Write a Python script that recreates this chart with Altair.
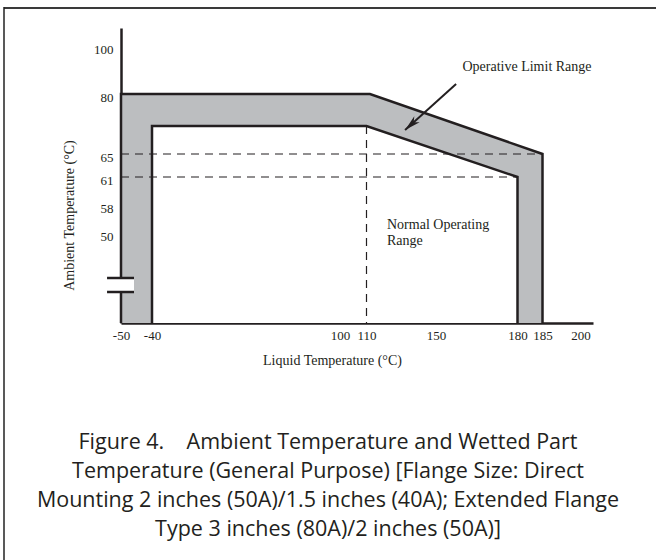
import altair as alt
import pandas as pd

SERIF = "Liberation Serif"
SANS = "Open Sans"
INK = "#231f20"
GRAY = "#bcbec0"

# ---- data (degrees C) ----
Y_MIN = -40
outer_x = [-50, -50, 112, 185, 185]
outer_y = [Y_MIN, 80, 80, 65, Y_MIN]
inner_x = [-40, -40, 110, 180, 180]
inner_y = [Y_MIN, 72, 72, 61, Y_MIN]

dash_h_y = [65, 61]
dash_h_x1 = [-50, -50]
dash_h_x2 = [185, 180]
dash_v_x = [110]
dash_v_y1 = [72]
dash_v_y2 = [Y_MIN]

x_ticks = [-50, -40, 100, 110, 150, 180, 185, 200]
y_ticks = [50, 58, 61, 65, 80, 100]

break_y = [-9, 5]
break_x = [-54.5, -45.8]

arrow_from = (157.4, 84.2)
arrow_to = (132.2, 71.0)

label_text = ["Operative Limit Range", "Normal Operating\nRange"]
label_x = [181.9, 121.8]
label_y = [91.4, 52.3]

caption = [
    "Figure 4.\u00a0\u00a0\u00a0 Ambient Temperature and Wetted Part",
    "Temperature (General Purpose) [Flange Size: Direct",
    "Mounting 2 inches (50A)/1.5 inches (40A); Extended Flange",
    "Type 3 inches (80A)/2 inches (50A)]",
]

# ---- schematic (piecewise) scales ----
xs = alt.Scale(domain=[-50, -40, 100, 110, 150, 180, 185, 205],
               range=[0, 31, 219, 245.5, 315, 396.5, 421.5, 472],
               nice=False, zero=False)
ys = alt.Scale(domain=[-40, 50, 58, 61, 65, 80, 100, 108],
               range=[295, 205, 177.5, 149, 126, 66, 18.5, 0],
               nice=False, zero=False)

xaxis = alt.Axis(values=x_ticks, title="Liquid Temperature (°C)", grid=False,
                 ticks=False, tickSize=0, labelPadding=6, labelFont=SERIF,
                 labelFontSize=13, labelColor=INK, labelExpr="'' + datum.value",
                 domainColor=INK, domainWidth=2.5, titleFont=SERIF,
                 titleFontSize=14, titleFontWeight="normal", titleColor=INK,
                 titleX=211, titleY=37, titleBaseline="middle", labelFlush=False,
                 labelOverlap=False)
yaxis = alt.Axis(values=y_ticks, title="Ambient Temperature (°C)", grid=False,
                 ticks=False, tickSize=0, labelPadding=8, labelFont=SERIF,
                 labelFontSize=13, labelColor=INK, labelOffset=3,
                 domainColor=INK, domainWidth=2.5, titleFont=SERIF,
                 titleFontSize=14, titleFontWeight="normal", titleColor=INK,
                 titleX=-52, titleY=187, titleBaseline="middle", labelFlush=False,
                 labelOverlap=False)


def X(f="x"):
    return alt.X(f, type="quantitative", scale=xs, axis=xaxis)


def Y(f="y"):
    return alt.Y(f, type="quantitative", scale=ys, axis=yaxis)


outer = pd.DataFrame({"x": outer_x, "y": outer_y, "o": range(5)})
inner = pd.DataFrame({"x": inner_x, "y": inner_y, "o": range(5)})
outer_top = outer.iloc[1:4].assign(y2=Y_MIN)
inner_top = inner.iloc[1:4].assign(y2=Y_MIN)

gray_area = alt.Chart(outer_top).mark_area(color=GRAY, interpolate="linear").encode(
    x=X(), y=Y(), y2="y2")
white_area = alt.Chart(inner_top).mark_area(color="white", interpolate="linear").encode(
    x=X(), y=Y(), y2="y2")

dh = pd.DataFrame({"x": dash_h_x1, "x2": dash_h_x2, "y": dash_h_y})
dash_h = alt.Chart(dh).mark_rule(color=INK, strokeWidth=1.2, strokeDash=[8, 6]).encode(
    x=X(), x2="x2", y=Y())
dv = pd.DataFrame({"x": dash_v_x, "y": dash_v_y1, "y2": dash_v_y2})
dash_v = alt.Chart(dv).mark_rule(color=INK, strokeWidth=1.2, strokeDash=[8, 6]).encode(
    x=X(), y=Y(), y2="y2")

outer_line = alt.Chart(outer).mark_line(color=INK, strokeWidth=2.5, strokeJoin="miter").encode(
    x=X(), y=Y(), order="o")
inner_line = alt.Chart(inner).mark_line(color=INK, strokeWidth=2.5, strokeJoin="miter").encode(
    x=X(), y=Y(), order="o")

brk = pd.DataFrame({"x": [break_x[0]], "x2": [break_x[1]], "y": [break_y[0]], "y2": [break_y[1]]})
break_rect = alt.Chart(brk).mark_rect(color="white").encode(x=X(), x2="x2", y=Y(), y2="y2")
brk_lines = pd.DataFrame({"x": [break_x[0]] * 2, "x2": [break_x[1]] * 2, "y": break_y})
break_rules = alt.Chart(brk_lines).mark_rule(color=INK, strokeWidth=2.5).encode(
    x=X(), x2="x2", y=Y())

shaft = pd.DataFrame({"x": [arrow_from[0], arrow_to[0]], "y": [arrow_from[1], arrow_to[1]],
                      "o": [0, 1]})
arrow_shaft = alt.Chart(shaft).mark_line(color=INK, strokeWidth=2).encode(
    x=X(), y=Y(), order="o")
head = pd.DataFrame({"x": [arrow_to[0]], "y": [arrow_to[1]]})
arrow_head = alt.Chart(head).mark_point(
    shape="M0,0L0.5,2L0,1.45L-0.5,2Z", filled=True, color=INK, opacity=1,
    size=256, angle=228).encode(x=X(), y=Y())

lab = pd.DataFrame({"x": label_x, "y": label_y, "t": label_text})
labels_top = alt.Chart(lab.iloc[[0]]).mark_text(
    font=SERIF, fontSize=14, color=INK, align="center", baseline="middle").encode(
    x=X(), y=Y(), text="t")
labels_normal = alt.Chart(lab.iloc[[1]]).mark_text(
    font=SERIF, fontSize=14, color=INK, align="left", baseline="middle",
    lineBreak="\n", lineHeight=15.7).encode(x=X(), y=Y(), text="t")

one = alt.Data(values=[{"k": 1}])
frame_top = alt.Chart(one).mark_rule(color="#3a3a3a", strokeWidth=2).encode(
    x=alt.value(-117), x2=alt.value(540), y=alt.value(-20))
frame_left = alt.Chart(one).mark_rule(color="#222222", strokeWidth=1.5).encode(
    x=alt.value(-117), y=alt.value(-21), y2=alt.value(540))

cap = alt.Chart(alt.Data(values=[{"t": "\n".join(caption)}])).mark_text(
    font=SANS, fontSize=21.5, color=INK, align="center", baseline="middle",
    lineBreak="\n", lineHeight=29).encode(
    x=alt.value(207), y=alt.value(415), text="t:N")

chart = alt.layer(
    gray_area, white_area, dash_h, dash_v, outer_line, inner_line,
    break_rect, break_rules, arrow_shaft, arrow_head, labels_top, labels_normal,
    frame_top, frame_left, cap,
).properties(
    width=472, height=295,
    autosize=alt.AutoSizeParams(type="none"),
    padding={"left": 121, "top": 28, "right": 63, "bottom": 237},
    background="white",
).configure_view(strokeWidth=0)

chart.save("out.html", embed_options={"renderer": "svg", "actions": False})
